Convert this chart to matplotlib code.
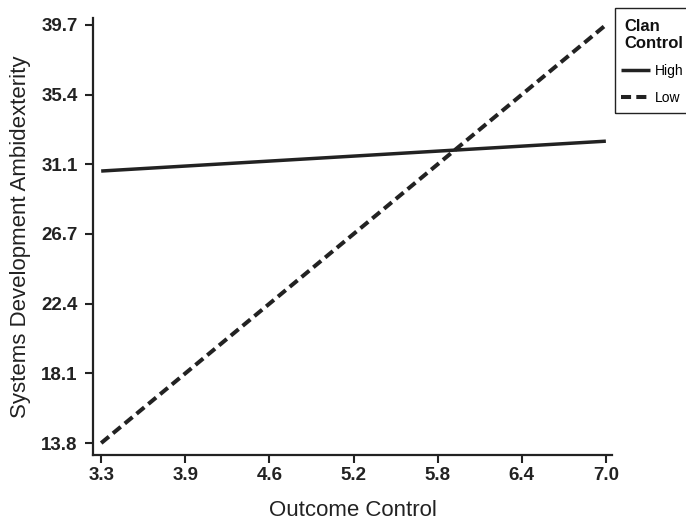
import matplotlib
matplotlib.use("Agg")
import matplotlib.pyplot as plt
from matplotlib.patches import Rectangle
import numpy as np

# data
x_vals = [3.3, 7.0]
high_clan = [30.65, 32.5]
low_clan = [13.8, 39.7]
x_ticks = [3.3, 3.9, 4.6, 5.2, 5.8, 6.4, 7.0]
x_tick_labels = ["3.3", "3.9", "4.6", "5.2", "5.8", "6.4", "7.0"]
y_ticks = [13.8, 18.1, 22.4, 26.7, 31.1, 35.4, 39.7]
y_tick_labels = ["13.8", "18.1", "22.4", "26.7", "31.1", "35.4", "39.7"]

plt.rcParams["font.family"] = ["Liberation Sans", "DejaVu Sans"]

W, H = 686, 522
fig = plt.figure(figsize=(W / 100, H / 100), dpi=100)
ax = fig.add_axes([93 / W, 67 / H, (612 - 93) / W, (455 - 18) / H])

col = "#222222"
ax.plot(x_vals, high_clan, color=col, lw=2.5, solid_capstyle="butt", label="High")
ax.plot(x_vals, low_clan, color=col, lw=2.9, ls=(0, (2.5, 1.3)), dash_capstyle="butt", label="Low")

# ticks are evenly spaced; labels are the rounded values
xt = np.linspace(x_ticks[0], x_ticks[-1], len(x_ticks))
yt = np.linspace(y_ticks[0], y_ticks[-1], len(y_ticks))
ax.set_xticks(xt)
ax.set_xticklabels(x_tick_labels)
ax.set_yticks(yt)
ax.set_yticklabels(y_tick_labels)
ax.set_xlim(3.24, 7.045)
ax.set_ylim(13.06, 40.13)

for lab in ax.get_xticklabels() + ax.get_yticklabels():
    lab.set_fontweight("bold")
    lab.set_fontsize(13.5)
    lab.set_color("#222222")

ax.tick_params(direction="out", length=6, width=1.5, color=col)
ax.tick_params(axis="x", pad=3)
ax.tick_params(axis="y", pad=5)
for s in ["top", "right"]:
    ax.spines[s].set_visible(False)
for s in ["left", "bottom"]:
    ax.spines[s].set_linewidth(1.6)
    ax.spines[s].set_color(col)

ax.set_xlabel("Outcome Control", fontsize=16, color="#222222", labelpad=11)
ax.set_ylabel("Systems Development Ambidexterity", fontsize=16, color="#222222", labelpad=7)

# legend box: frame and title drawn by hand, entries from the plotted lines
fig.patches.append(Rectangle((615 / W, 1 - 113 / H), 100 / W, 105 / H,
                             transform=fig.transFigure, fill=False,
                             edgecolor=col, linewidth=1.0, clip_on=False))
fig.text(624 / W, 1 - 19 / H, "Clan\nControl", ha="left", va="top",
         fontsize=12, fontweight="bold", color="#111111", linespacing=1.2)
leg = fig.legend(loc="upper left", bbox_to_anchor=(621 / W, 1 - 64 / H), borderaxespad=0,
                 fontsize=10, frameon=False, borderpad=0,
                 handlelength=2.1, handletextpad=0.35, labelspacing=0.9)

fig.savefig("out.png", dpi=100)
